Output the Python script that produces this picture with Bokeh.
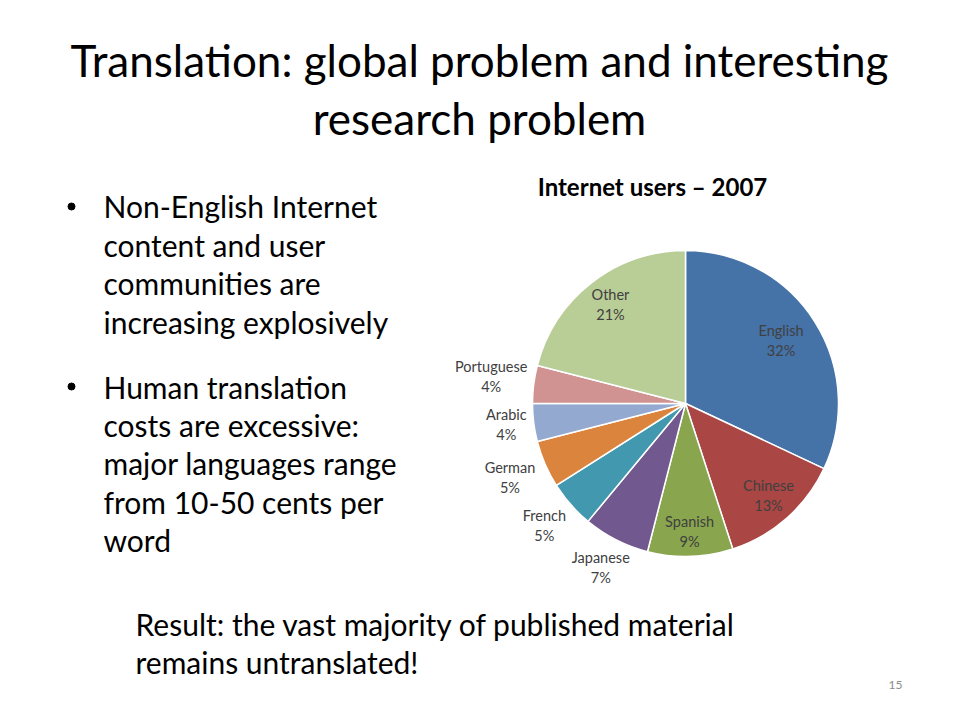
import math
from bokeh.plotting import figure
from bokeh.models import Range1d, ColumnDataSource
from bokeh.core.properties import value
from bokeh.embed import file_html
from bokeh.resources import INLINE

# ---- data ----
languages = ["English", "Chinese", "Spanish", "Japanese", "French", "German", "Arabic", "Portuguese", "Other"]
shares = [32, 13, 9, 7, 5, 5, 4, 4, 21]
colors = ["#4572A7", "#AA4643", "#89A54E", "#71588F", "#4198AF", "#DB843D", "#93A9CF", "#D19392", "#B9CD96"]

title_lines = ["Translation: global problem and interesting", "research problem"]
chart_title = "Internet users \u2013 2007"
bullet1 = ["Non-English Internet", "content and user", "communities are", "increasing explosively"]
bullet2 = ["Human translation", "costs are excessive:", "major languages range", "from 10-50 cents per", "word"]
result_lines = ["Result: the vast majority of published material", "remains untranslated!"]
page_number = "15"

# ---- layout (page pixel coords) ----
W, H = 944, 704
FONT = value("Lato")

def Y(py, size=0, k=0.05):
    # page y of visual text centre -> data y for "middle" baseline
    return 720 - (py - k * size)

label_radius = [0.74, 0.82, 0.85, 1.22, 1.23, 1.25, 1.18, 1.28, 0.80]
cx, cy, R = 685, 720 - 403, 153

p = figure(width=W, height=H, output_backend="svg", toolbar_location=None,
           x_range=Range1d(0, 944), y_range=Range1d(16, 720), min_border=0)
p.axis.visible = False
p.grid.visible = False
p.outline_line_color = None
p.background_fill_color = "white"
p.border_fill_color = "white"

# pie
total = sum(shares)
starts, ends, lx, ly, names, pcts = [], [], [], [], [], []
cum = 0.0
for lang, s, k in zip(languages, shares, label_radius):
    f0 = cum / total
    cum += s
    f1 = cum / total
    starts.append(math.pi / 2 - 2 * math.pi * f0)
    ends.append(math.pi / 2 - 2 * math.pi * f1)
    mid = 2 * math.pi * (f0 + f1) / 2
    lx.append(cx + k * R * math.sin(mid))
    ly.append(cy + k * R * math.cos(mid))
    names.append(lang)
    pcts.append(f"{s}%")

src = ColumnDataSource(dict(start=starts, end=ends, color=colors,
                            x=[cx] * len(shares), y=[cy] * len(shares)))
p.wedge(x="x", y="y", radius=R, start_angle="start", end_angle="end", direction="clock",
        fill_color="color", line_color="white", line_width=1.5, source=src)

LS = 14.5
lsrc = ColumnDataSource(dict(x=lx, yn=[v + 10 + 2 for v in ly], yp=[v - 10 + 2 for v in ly],
                             n=names, pc=pcts))
p.text(x="x", y="yn", text="n", source=lsrc, text_font=FONT, text_font_size=f"{LS}px",
       text_color="#404040", text_align="center", text_baseline="middle")
p.text(x="x", y="yp", text="pc", source=lsrc, text_font=FONT, text_font_size=f"{LS}px",
       text_color="#404040", text_align="center", text_baseline="middle")

# slide title
TS = 44
p.text(x=[479, 479], y=[Y(61.5, TS), Y(119.5, TS)], text=title_lines, text_font=FONT,
       text_font_size=f"{TS}px", text_color="black", text_align="center", text_baseline="middle")

# chart title
CS = 24
p.text(x=[652], y=[Y(187, CS)], text=[chart_title], text_font=FONT, text_font_style="bold",
       text_font_size=f"{CS}px", text_color="black", text_align="center", text_baseline="middle")

# bullets
BS = 30
b1y = [207.3, 245.8, 284.3, 322.8]
b2y = [387.8, 425.8, 464.3, 502.8, 540.8]
p.text(x=[103] * 4, y=[Y(v, BS) for v in b1y], text=bullet1, text_font=FONT,
       text_font_size=f"{BS}px", text_color="black", text_align="left", text_baseline="middle")
p.text(x=[103] * 5, y=[Y(v, BS) for v in b2y], text=bullet2, text_font=FONT,
       text_font_size=f"{BS}px", text_color="black", text_align="left", text_baseline="middle")
p.scatter(x=[71, 71], y=[720 - 206, 720 - 386], size=7, marker="circle", fill_color="black", line_color="black")

# result
RS = 30
p.text(x=[135, 135], y=[Y(625, RS), Y(662.5, RS)], text=result_lines, text_font=FONT,
       text_font_size=f"{RS}px", text_color="black", text_align="left", text_baseline="middle")

# page number
p.text(x=[895], y=[Y(686, 12, 0.15)], text=[page_number], text_font=FONT, text_font_size="12px",
       text_color="#8C8C8C", text_align="center", text_baseline="middle")

open("out.html", "w").write(file_html(p, INLINE))
